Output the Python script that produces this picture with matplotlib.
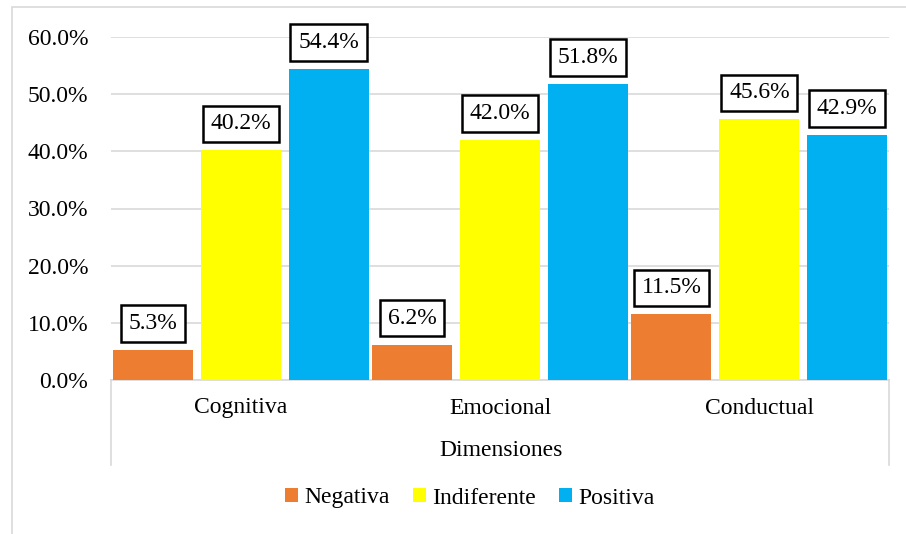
import matplotlib.pyplot as plt
import matplotlib.patches as mpatches
import numpy as np

categories = ["Cognitiva", "Emocional", "Conductual"]
series = ["Negativa", "Indiferente", "Positiva"]
negativa = [5.3, 6.2, 11.5]
indiferente = [40.2, 42.0, 45.6]
positiva = [54.4, 51.8, 42.9]
colors = ["#ED7D31", "#FFFF00", "#00B0F0"]
axis_title = "Dimensiones"

plt.rcParams["font.family"] = ["Liberation Serif", "DejaVu Serif"]
grid_color = "#D9D9D9"
fs = 17

fig = plt.figure(figsize=(9.06, 5.34), dpi=100)
ax = fig.add_axes([111 / 906, 1 - 380 / 534, 778 / 906, 343 / 534])

# outer chart border (right/bottom edges are cropped in the reference)
fig.patches.append(mpatches.Rectangle((12 / 906, -0.1), 1.2, 1 - 7 / 534 + 0.1,
                                      transform=fig.transFigure, fill=False,
                                      edgecolor=grid_color, linewidth=1.2))

x = np.arange(len(categories))
width = 0.308
step = 0.339
for i, (vals, name) in enumerate(zip([negativa, indiferente, positiva], series)):
    pos = x + (i - 1) * step
    ax.bar(pos, vals, width, color=colors[i], label=name, zorder=3)
    for px, v in zip(pos, vals):
        ax.annotate(f"{v:.1f}%", (px, v), xytext=(0, 19), textcoords="offset points",
                    ha="center", va="center", fontsize=fs, zorder=5,
                    bbox=dict(boxstyle="square,pad=0.33", fc="white", ec="black", lw=1.8))

ax.set_xlim(-0.5, 2.5)
ax.set_ylim(0, 60)
ax.set_yticks(np.arange(0, 61, 10))
ax.set_yticklabels([f"{t:.1f}%" for t in np.arange(0, 61, 10)])
ax.tick_params(axis="y", length=0, labelsize=fs, pad=16.5)
ax.set_xticks([])
ax.yaxis.grid(True, color=grid_color, linewidth=1.2, zorder=0)
for s in ["top", "right", "left"]:
    ax.spines[s].set_visible(False)
ax.spines["bottom"].set_color(grid_color)
ax.spines["bottom"].set_linewidth(1.2)

# multi-level category axis box
y0 = 1 - 380 / 534
y1 = 1 - 465 / 534
for xe in [111 / 906, 889 / 906]:
    fig.add_artist(plt.Line2D([xe, xe], [y0, y1], color=grid_color, lw=1.2))
for i, c in enumerate(categories):
    fig.text((111 + (i + 0.5) * 778 / 3) / 906, 1 - 408 / 534, c,
             ha="center", va="center", fontsize=fs)
fig.text(501 / 906, 1 - 450 / 534, axis_title, ha="center", va="center", fontsize=fs)

fig.legend(loc="center", bbox_to_anchor=(470 / 906, 1 - 498 / 534), ncol=3, frameon=False,
           fontsize=fs, handlelength=0.55, handleheight=0.55, handletextpad=0.25,
           columnspacing=1.0)

fig.savefig("out.png", dpi=100)
